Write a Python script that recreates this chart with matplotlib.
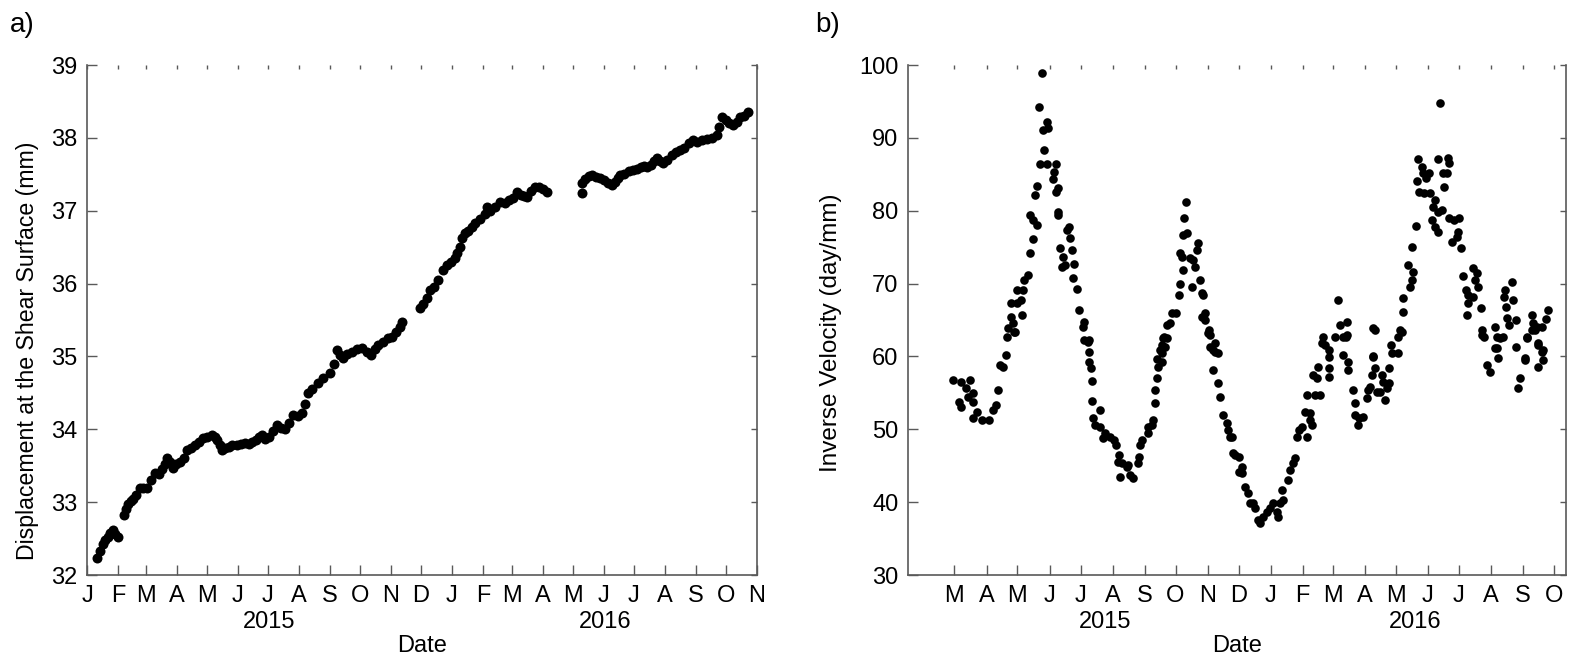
import numpy as np
import pandas as pd
import matplotlib
matplotlib.use('Agg')
import matplotlib.pyplot as plt
import matplotlib.transforms as mtransforms

plt.rcParams['font.family'] = ['Liberation Sans', 'DejaVu Sans']
narrow = ['Liberation Sans Narrow', 'Liberation Sans', 'DejaVu Sans']

# ---- panel a) displacement at the shear surface ----
disp_start = '2015-01-01'
disp_day = [10, 13, 16, 18, 21, 23, 26, 28, 31,
            37, 39, 41, 44, 46, 49, 53, 56, 60, 64, 68, 72, 75, 78, 80, 83, 86,
            89, 93, 97, 100, 104, 108, 112, 116, 120, 125, 128, 130, 133, 135,
            138, 142, 145, 150, 154, 158, 162, 165, 169, 172, 175, 178, 182,
            186, 190, 194, 198, 202, 206, 211, 215, 218, 221, 225, 231, 236,
            243, 247, 250, 253, 256, 260, 265, 270, 275, 280, 284, 288, 291,
            296, 301, 305, 309, 313, 315,
            333, 336, 340, 343, 347, 351, 356, 360, 364, 368, 370, 373, 375,
            378, 381, 385, 388, 393, 398, 400, 403, 408, 413, 418, 422, 426,
            430, 434, 437, 440, 444, 448, 452, 456, 460,
            495, 495, 498, 502, 505, 509, 513, 517, 521, 525, 528, 531, 533,
            537, 542, 546, 550, 554, 557, 560, 564, 567, 570, 573, 576, 580,
            585, 589, 593, 597, 602, 606, 610, 615, 620, 625, 630, 632, 635,
            639, 642, 646, 650, 653, 657, 661]
disp_mm = [32.23, 32.33, 32.42, 32.48, 32.52, 32.58, 32.62, 32.56, 32.52,
           32.82, 32.90, 32.98, 33.01, 33.04, 33.10, 33.19, 33.20, 33.19, 33.30,
           33.40, 33.38, 33.45, 33.52, 33.60, 33.55, 33.47,
           33.52, 33.55, 33.60, 33.71, 33.74, 33.78, 33.83, 33.88, 33.90, 33.92,
           33.90, 33.85, 33.78, 33.71,
           33.74, 33.76, 33.78, 33.78, 33.80, 33.81, 33.80, 33.83, 33.85, 33.90,
           33.92, 33.86, 33.90,
           33.98, 34.06, 34.02, 34.00, 34.08, 34.20, 34.18, 34.22, 34.35, 34.50,
           34.55, 34.63, 34.70,
           34.77, 34.90, 35.09, 35.02, 34.98, 35.03, 35.06, 35.10, 35.12, 35.06,
           35.02, 35.10, 35.16,
           35.20, 35.25, 35.27, 35.33, 35.40, 35.47,
           35.66, 35.72, 35.80, 35.91, 35.95, 36.05, 36.19, 36.25, 36.30, 36.35,
           36.42, 36.50, 36.62,
           36.69, 36.72, 36.78, 36.83, 36.88, 36.95, 37.05, 37.00, 37.05, 37.12,
           37.10, 37.15, 37.18,
           37.26, 37.22, 37.20, 37.19, 37.27, 37.33, 37.32, 37.30, 37.26,
           37.24, 37.38, 37.44, 37.48, 37.49, 37.46, 37.45, 37.42, 37.38, 37.35,
           37.40, 37.45, 37.49,
           37.50, 37.54, 37.56, 37.57, 37.60, 37.62, 37.60, 37.63, 37.68, 37.72,
           37.68, 37.65, 37.70,
           37.76, 37.80, 37.83, 37.86, 37.93, 37.97, 37.95, 37.97, 37.98, 38.00,
           38.04, 38.15, 38.28,
           38.25, 38.20, 38.18, 38.22, 38.28, 38.30, 38.35]

# ---- panel b) inverse velocity ----
invv_start = '2015-03-01'
invv_day = [-1, 6, 11, 15, 4, 6, 13, 18, 18, 22, 18, 27, 33, 37, 40, 42, 44, 47, 50, 51, 59,
            52, 58, 55, 57, 65, 55, 61, 64, 61, 66, 67, 71, 73, 76, 73, 76, 80, 78, 80, 82,
            85, 87, 86, 90, 91, 83, 90, 98, 96, 95, 100, 98, 100, 100, 111, 112, 109, 102,
            105, 104, 107, 114, 116, 115, 119, 121, 124, 125, 125, 129, 130,
            130, 130, 132, 133, 133, 141, 134, 136, 141, 146, 144, 151, 154, 156, 159, 158,
            162, 160, 167, 170, 173, 168, 178, 179, 180, 182, 187, 187, 191, 192, 194, 194,
            196, 197, 196, 201, 201, 204, 202, 206,
            199, 201, 203, 206, 209, 211, 214, 217, 218, 218, 220, 221, 222, 224, 221, 225,
            228, 230, 231, 233, 235, 236, 238, 240, 241, 240, 243, 243, 246, 247, 247, 252,
            250, 255,
            245, 252, 250, 255, 257, 260, 264, 265, 267, 270, 275, 275, 269, 272, 278, 278,
            281, 284, 286, 289, 291, 294, 296, 299, 303, 305, 308, 312, 313, 315, 318, 317,
            323, 325, 328, 330, 332, 334, 336, 341, 339, 344, 344, 346, 341, 349, 354, 347,
            352, 351, 363, 363, 356, 359, 363, 363, 357, 368, 376, 381, 381, 376, 380,
            371, 373, 380, 379, 386, 388, 388, 392, 391, 395, 399, 400, 402, 404, 407, 409,
            412, 414, 415, 417, 419, 421, 421, 405, 423, 424, 429, 429, 433, 407, 405, 405,
            431,
            434, 434, 441, 443, 444, 439, 443, 447, 449, 453, 454, 459, 448, 456, 450, 455,
            460, 465, 463, 468, 472, 462, 465, 468, 470, 468, 478, 479, 473, 477, 474, 479,
            484, 488, 487, 486, 482, 490, 492, 502, 506, 504, 507, 495, 497, 502, 497, 496,
            510, 511, 513, 523, 525, 531, 525,
            533, 532, 534, 540, 541, 535, 537, 544, 544, 554, 559, 560, 564, 569, 573, 575,
            562, 565, 569, 552, 511, 516, 518, 523, 526, 528, 547, 546, 552, 554, 559, 565,
            565, 570, 570]
invv_val = [56.8, 56.5, 55.7, 56.8, 53.7, 53.1, 54.4, 55.0, 53.7, 52.4, 51.5, 51.3, 51.3,
            52.6, 53.3, 55.4, 58.8, 58.5, 60.2, 62.7, 63.4,
            63.9, 63.4, 65.4, 64.6, 65.7, 67.3, 67.3, 67.7, 69.1, 69.1, 70.5, 71.2, 74.2,
            76.1, 79.4, 78.7, 78.0, 82.2, 83.4, 94.2,
            98.9, 88.3, 91.1, 92.2, 91.3, 86.4, 86.4, 86.4, 85.3, 84.3, 83.1, 82.6, 79.8,
            79.4, 77.8, 76.2, 77.4, 74.9,
            73.6, 72.3, 72.5, 74.6, 72.7, 70.8, 69.3, 66.4, 64.1, 64.7, 62.3, 62.0, 60.6,
            62.3, 59.2, 58.4, 56.6, 53.9, 52.6, 51.5, 50.6, 50.3, 49.5, 48.8, 48.9, 48.5,
            47.8, 46.5, 45.5,
            45.4, 43.5, 44.8, 43.7, 43.3, 45.1, 45.4, 46.2, 47.8, 48.5, 49.5, 50.3, 50.6,
            51.3, 53.6, 55.4,
            57.0, 58.5, 59.6, 59.2, 60.5, 61.3, 62.5, 62.5,
            60.9, 61.6, 62.7, 64.3, 64.6, 65.9, 65.9, 68.4, 70.0, 74.2, 73.6, 71.9, 79.0,
            81.2, 76.7, 76.9,
            73.5, 69.5, 73.2, 72.3, 74.6, 75.6, 70.5, 68.7, 68.4, 65.4, 65.9, 65.0, 63.6,
            62.9, 61.3, 61.8,
            60.9, 60.5,
            63.2, 60.6, 58.1, 56.4, 54.4, 52.0, 50.9, 49.9, 48.9, 46.7, 46.2, 44.1, 48.9,
            46.5, 44.8, 44.0,
            42.1, 41.3, 39.9, 39.9, 39.2, 37.5, 37.1, 38.0, 38.6, 39.2, 39.9, 38.6, 38.0,
            39.9, 40.3, 41.7,
            43.0, 44.4, 45.4, 46.1, 48.9, 49.9, 50.3, 48.9, 52.4, 52.2, 51.3, 50.6, 54.7,
            54.7, 54.7, 57.4,
            58.5, 57.0, 57.2, 58.4, 61.8, 61.6, 60.9, 59.9, 62.7, 62.7, 60.2, 59.2, 58.1,
            62.7, 62.9,
            67.7, 64.3, 64.7, 62.7, 55.4, 53.6, 52.0, 51.5, 50.6, 51.7, 54.3, 55.4, 55.8,
            57.4, 58.4, 55.1,
            55.1, 57.4, 56.5, 54.0, 55.7, 56.3, 58.4, 59.9, 61.6, 60.5, 60.5, 62.7, 63.4,
            63.6, 63.9, 60.1,
            63.6,
            66.1, 68.0, 69.5, 70.5, 71.6, 72.5, 75.0, 77.9, 87.1, 86.0, 85.2, 85.2, 84.1,
            84.5, 82.6, 82.4,
            82.4, 81.5, 80.5, 79.8, 80.1, 78.7, 77.8, 77.1, 94.8, 87.1, 87.2, 86.5, 85.2,
            85.2, 83.3, 79.0,
            78.7, 79.0, 77.1, 76.4, 75.7, 74.9, 71.0, 72.1, 71.4, 70.5, 69.5, 69.1, 68.4,
            68.2, 67.3, 65.7,
            66.6, 63.6, 62.7, 64.0, 62.7, 62.7, 61.2,
            69.1, 68.2, 66.8, 70.2, 67.7, 65.3, 64.3, 65.0, 61.3, 62.7, 65.7, 64.6, 64.0,
            64.0, 65.1, 66.4,
            63.6, 61.8, 60.6, 59.8, 62.9, 58.8, 57.9, 61.2, 59.8, 62.5, 57.0, 55.7, 59.5,
            62.5, 63.6, 61.6,
            58.5, 59.5, 60.9]

month_ticks_a = pd.date_range('2015-01-01', '2016-11-01', freq='MS')
month_ticks_b = pd.date_range('2015-03-01', '2016-10-01', freq='MS')
xlim_a = ['2015-01-01', '2016-11-01']
xlim_b = ['2015-01-15', '2016-10-13']
year_labels = ['2015', '2016']
year_pos_a = ['2015-07-02', '2016-06-02']
year_pos_b = ['2015-07-25', '2016-05-20']

disp_dates = np.datetime64(disp_start) + np.array(disp_day).astype('timedelta64[D]')
invv_dates = np.datetime64(invv_start) + np.array(invv_day).astype('timedelta64[D]')

fig = plt.figure(figsize=(15.71, 6.63), dpi=100)
ax1 = fig.add_axes([87/1571, 1-575/663, 670/1571, 510/663])
ax2 = fig.add_axes([908/1571, 1-575/663, 658/1571, 510/663])


def style_axis(ax, ticks, xlim, ypos, ylim, yticks):
    ax.set_xlim(pd.Timestamp(xlim[0]), pd.Timestamp(xlim[1]))
    ax.set_ylim(*ylim)
    ax.set_xticks(ticks)
    ax.set_xticklabels([t.strftime('%b')[0] for t in ticks], family=narrow, fontsize=17)
    ax.set_yticks(yticks)
    ax.set_yticklabels([str(v) for v in yticks], fontsize=17)
    ax.tick_params(direction='in', length=7, width=1, color='0.35', pad=7,
                   top=True, right=True)
    for t in ax.xaxis.get_major_ticks():
        t.tick2line.set_markersize(3)
        t.tick2line.set_color('0.55')
    for t in ax.yaxis.get_major_ticks():
        t.tick2line.set_markersize(4)
    for s in ['left', 'bottom', 'right']:
        ax.spines[s].set_color('0.35')
        ax.spines[s].set_linewidth(1.2)
    ax.spines['top'].set_visible(False)
    trans = mtransforms.blended_transform_factory(ax.transData, ax.transAxes)
    for lab, pos in zip(year_labels, ypos):
        ax.text(pd.Timestamp(pos), -0.093, lab, transform=trans, ha='center',
                va='center', fontsize=17, family=narrow)
    ax.set_xlabel('Date', fontsize=17, family=narrow)
    ax.xaxis.set_label_coords(0.5, -0.117)


ax1.plot(disp_dates, disp_mm, 'o', color='black', markersize=7.2, markeredgewidth=0)
style_axis(ax1, month_ticks_a, xlim_a, year_pos_a, (32, 39), list(range(32, 40)))
ax1.set_ylabel('Displacement at the Shear Surface (mm)', fontsize=16.7)
ax1.yaxis.set_label_coords(-0.072, 0.44)

ax2.plot(invv_dates, invv_val, 'o', color='black', markersize=6.2, markeredgewidth=0)
style_axis(ax2, month_ticks_b, xlim_b, year_pos_b, (30, 100), list(range(30, 101, 10)))
ax2.set_ylabel('Inverse Velocity (day/mm)', fontsize=17.5)
ax2.yaxis.set_label_coords(-0.1, 0.475)

fig.text(10/1571, 1-25/663, 'a)', fontsize=20, va='center', ha='left')
fig.text(815/1571, 1-25/663, 'b)', fontsize=20, va='center', ha='left')

fig.savefig('out.png', dpi=100)
